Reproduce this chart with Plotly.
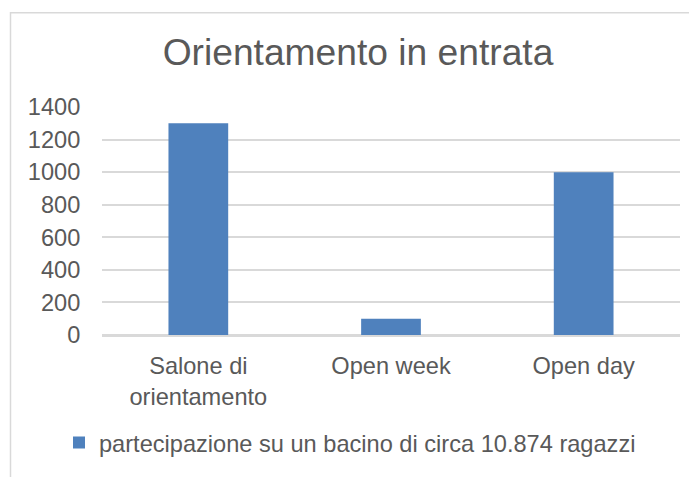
import plotly.graph_objects as go

categories = ["Salone di<br>orientamento", "Open week", "Open day"]
values = [1300, 100, 1000]
series_name = "partecipazione su un bacino di circa 10.874 ragazzi"
title_text = "Orientamento in entrata"
y_ticks = [0, 200, 400, 600, 800, 1000, 1200, 1400]

FONT = "Liberation Sans, Arial, sans-serif"
TXT = "#595959"
FS = 23.6

fig = go.Figure()
fig.add_trace(go.Bar(
    x=categories, y=values, name=series_name,
    marker=dict(color="#4f81bd", line=dict(width=0)),
    width=0.31, showlegend=True,
))

# page body has an 8px margin; coordinates below are in figure space
OFF = 8
W, H = 697 - OFF, 477 - OFF
L, R, T, B = 102 - OFF, 680 - OFF, 107 - OFF, 338 - OFF
pw, ph = R - L, B - T

def px(x):
    return (x - L) / pw

def py(y):
    return (B - y) / ph

fig.update_layout(
    width=W, height=H,
    margin=dict(l=L, r=W - R, t=T, b=H - B),
    paper_bgcolor="white", plot_bgcolor="white",
    font=dict(family=FONT, color=TXT, size=FS),
    title=dict(text=title_text, x=(358 - OFF) / W, xanchor="center",
               y=1 - (52 - OFF) / H, yanchor="middle", yref="container",
               font=dict(size=37.2, color=TXT, family=FONT)),
    showlegend=True,
    legend=dict(orientation="h", x=px(350 - OFF), xanchor="center",
                y=py(447 - OFF), yanchor="middle", font=dict(size=FS, color=TXT),
                itemwidth=30),
    xaxis=dict(showgrid=False, showline=False, ticks="outside", ticklen=10,
               tickcolor="rgba(0,0,0,0)", tickfont=dict(size=FS, color=TXT)),
    yaxis=dict(range=[0, 1400], tickvals=y_ticks, showgrid=True,
               gridcolor="#d9d9d9", gridwidth=2, zeroline=True,
               zerolinecolor="#d9d9d9", zerolinewidth=2.5,
               ticks="outside", ticklen=16, tickcolor="rgba(0,0,0,0)",
               tickfont=dict(size=FS, color=TXT)),
    shapes=[dict(type="rect", xref="paper", yref="paper",
                 x0=px(10.5 - OFF), x1=px(705), y0=py(485), y1=py(11.5 - OFF),
                 line=dict(color="#d9d9d9", width=1.5), layer="below")],
)

fig.write_html("out.html")
